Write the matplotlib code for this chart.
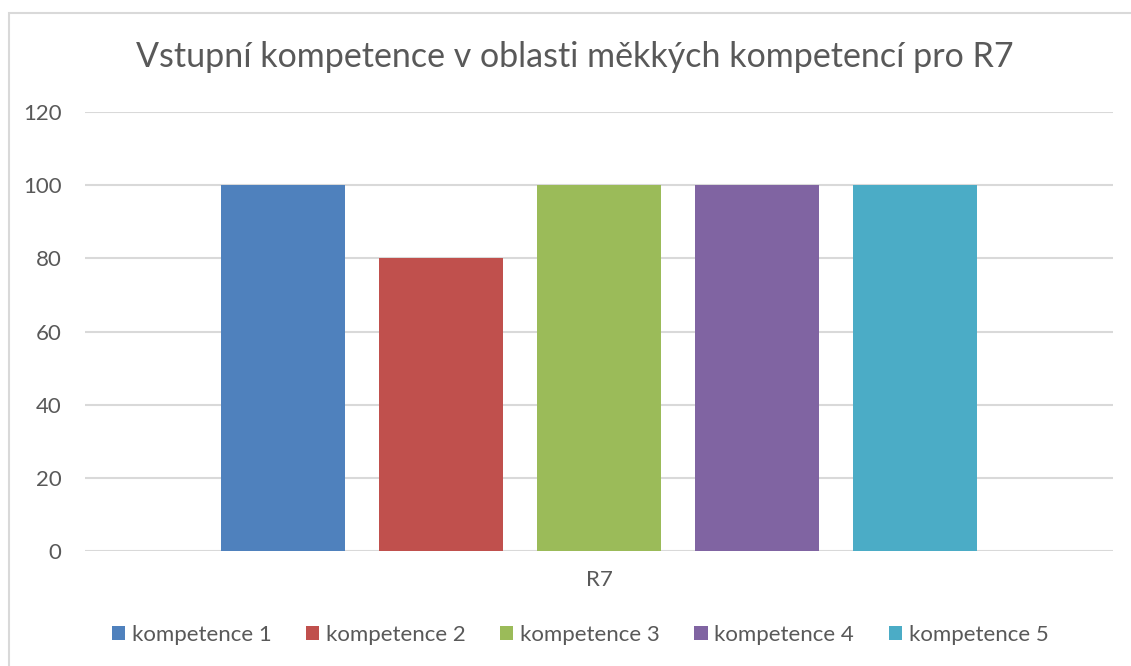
import numpy as np
import matplotlib as mpl
mpl.use('Agg')
import matplotlib.pyplot as plt
from matplotlib.patches import Rectangle

plt.rcParams['font.family'] = ['Lato', 'DejaVu Sans']

# Data
category = "R7"
series = ["kompetence 1", "kompetence 2", "kompetence 3", "kompetence 4", "kompetence 5"]
values = [100, 80, 100, 100, 100]
colors = ["#4F81BD", "#C0504D", "#9BBB59", "#8064A2", "#4BACC6"]
yticks = [0, 20, 40, 60, 80, 100, 120]

text_color = "#595959"
grid_color = "#D9D9D9"

fig = plt.figure(figsize=(11.31, 6.66), dpi=100)
fig.patch.set_facecolor('white')

# chart frame
fig.patches.append(Rectangle((9/1131, -0.1), 1.2, 1 - 13/666 + 0.1, transform=fig.transFigure,
                             fill=False, edgecolor=grid_color, linewidth=1.5))

ax = fig.add_axes([85/1131, 1 - 551/666, 1028/1131, 439/666])

step = 0.1535
width = 0.1206
offsets = (np.arange(len(series)) - 2) * step + 0.5
for x, v, c, s in zip(offsets, values, colors, series):
    ax.bar(x, v, width=width, color=c, label=s, zorder=2)

ax.set_xlim(0, 1)
ax.set_ylim(0, 120)
ax.set_yticks(yticks)
ax.set_xticks([0.5])
ax.set_xticklabels([category])
ax.yaxis.grid(True, color=grid_color, linewidth=1.5, zorder=0)
for sp in ax.spines.values():
    sp.set_visible(False)
ax.tick_params(axis='both', length=0, labelsize=16, labelcolor=text_color)
ax.tick_params(axis='y', pad=17)
ax.tick_params(axis='x', pad=14)

fig.text(575/1131, 1 - 57/666, "Vstupní kompetence v oblasti měkkých kompetencí pro R7",
         ha='center', va='center', fontsize=24.5, color=text_color)

ax.legend(loc='center', bbox_to_anchor=((580 - 85) / 1028, (1 - 635/666 - (1 - 551/666)) / (439/666)),
          ncol=5, frameon=False, fontsize=16, labelcolor=text_color,
          handlelength=0.6, handleheight=0.6, handletextpad=0.3, columnspacing=1.55)

fig.savefig('out.png', dpi=100)
